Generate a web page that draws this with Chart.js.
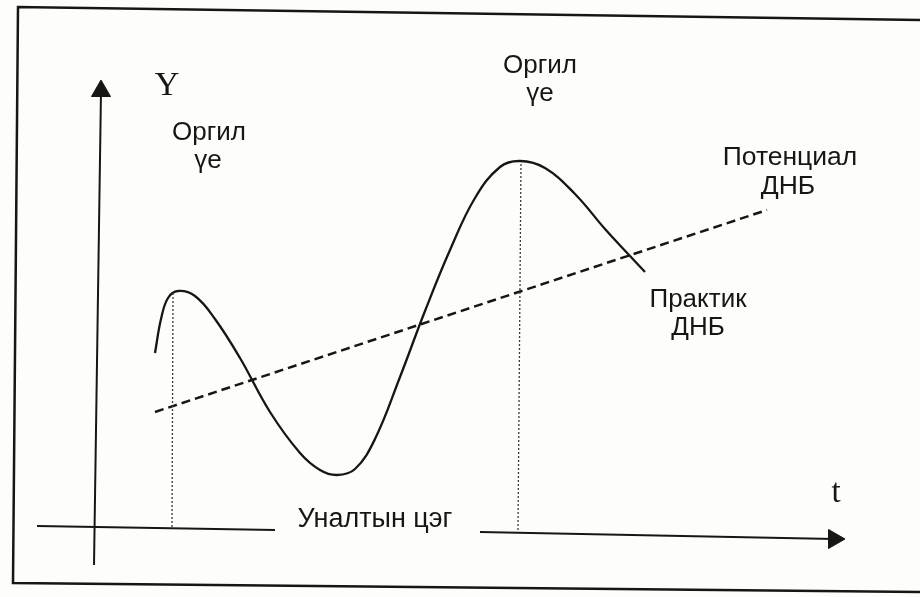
<!DOCTYPE html>
<html>
<head>
<meta charset="utf-8">
<script src="https://cdn.jsdelivr.net/npm/chart.js@4/dist/chart.umd.min.js"></script>
<style>
  html, body { margin: 0; padding: 0; background: #fdfdfa; }
  #wrap { width: 920px; height: 597px; }
</style>
</head>
<body>
<div id="wrap"><canvas id="cycle" width="920" height="597"></canvas></div>
<script>
// Practical GDP curve (t, Y).
const actualT = [ 155, 161, 168, 178, 195, 215, 240, 270, 300, 320, 337, 355, 375, 400, 425, 450, 475, 500, 520, 545, 575, 605, 630, 645 ];
const actualY = [ 244, 278, 299, 306, 301, 278, 239, 185, 144, 127, 122, 128, 158, 220, 286, 347, 399, 430, 436, 429, 403, 368, 341, 325 ];

// Potential GDP trend line.
const potentialT = [ 155, 767 ];
const potentialY = [ 185, 387 ];

// Peaks (dotted drop lines down to the time axis).
const peakT = [ 173, 521 ];
const peakY = [ 305, 435 ];
const peakBaseT = [ 172, 518 ];
const peakBaseY = [ 70, 67 ];

// Axes and frame of the scanned figure.
const yAxisT = [ 94, 101 ];
const yAxisY = [ 32, 506 ];
const tAxisLeftT = [ 37, 275 ];
const tAxisLeftY = [ 71, 67 ];
const tAxisRightT = [ 480, 834 ];
const tAxisRightY = [ 65, 58 ];
const frameT = [ 920, 18, 13, 920 ];
const frameY = [ 577, 590, 14, 5 ];

const INK = '#161616';

const pts = ( xs, ys ) => xs.map( ( x, i ) => ( { x: x, y: ys[ i ] } ) );

// Text annotations: [ text, t, Y (baseline), font ]
const notes = [
  [ 'Y', 167, 502, '34px "Liberation Serif"' ],
  [ 't', 836, 95, '33px "Liberation Serif"' ],
  [ 'Оргил', 209, 457, '26px "Liberation Sans"' ],
  [ 'үе', 208, 429, '26px "Liberation Sans"' ],
  [ 'Оргил', 540, 524, '26px "Liberation Sans"' ],
  [ 'үе', 540, 496, '26px "Liberation Sans"' ],
  [ 'Потенциал', 790, 432, '26.5px "Liberation Sans"' ],
  [ 'ДНБ', 788, 403, '26.5px "Liberation Sans"' ],
  [ 'Практик', 698, 290, '26px "Liberation Sans"' ],
  [ 'ДНБ', 698, 262, '26px "Liberation Sans"' ],
  [ 'Уналтын цэг', 375, 70, '27px "Liberation Sans"' ]
];

const notesPlugin = {
  id: 'notes',
  afterDatasetsDraw( chart ) {
    const ctx = chart.ctx;
    const sx = chart.scales.x;
    const sy = chart.scales.y;
    ctx.save();
    ctx.fillStyle = INK;
    ctx.textBaseline = 'alphabetic';
    ctx.textAlign = 'center';
    notes.forEach( n => {
      ctx.font = n[ 3 ];
      ctx.fillText( n[ 0 ], sx.getPixelForValue( n[ 1 ] ), sy.getPixelForValue( n[ 2 ] ) );
    } );
    ctx.restore();
  }
};

// Arrow head only on the last point of an axis.
const arrowAt = rot => ( {
  pointRadius: c => c.dataIndex === 1 ? 11 : 0,
  pointStyle: 'triangle',
  rotation: rot,
  pointBackgroundColor: INK,
  pointBorderColor: INK,
  pointBorderWidth: 1
} );

const plain = {
  showLine: true,
  pointRadius: 0,
  borderColor: INK,
  clip: false
};

new Chart( document.getElementById( 'cycle' ), {
  type: 'scatter',
  data: {
    datasets: [
      Object.assign( {}, plain, { data: pts( frameT, frameY ), borderWidth: 2.5 } ),
      Object.assign( {}, plain, { data: pts( [ peakBaseT[ 0 ], peakT[ 0 ] ], [ peakBaseY[ 0 ], peakY[ 0 ] ] ), borderWidth: 1.3, borderColor: '#3a3a3a', borderDash: [ 2, 2 ] } ),
      Object.assign( {}, plain, { data: pts( [ peakBaseT[ 1 ], peakT[ 1 ] ], [ peakBaseY[ 1 ], peakY[ 1 ] ] ), borderWidth: 1.3, borderColor: '#3a3a3a', borderDash: [ 2, 2 ] } ),
      Object.assign( {}, plain, arrowAt( 0 ), { data: pts( yAxisT, yAxisY ), borderWidth: 2 } ),
      Object.assign( {}, plain, { data: pts( tAxisLeftT, tAxisLeftY ), borderWidth: 2 } ),
      Object.assign( {}, plain, arrowAt( 90 ), { data: pts( tAxisRightT, tAxisRightY ), borderWidth: 2 } ),
      Object.assign( {}, plain, { data: pts( potentialT, potentialY ), borderWidth: 2.5, borderDash: [ 9, 5 ] } ),
      Object.assign( {}, plain, { data: pts( actualT, actualY ), borderWidth: 2.3, tension: 0.4 } )
    ]
  },
  options: {
    responsive: false,
    animation: false,
    events: [],
    layout: { padding: 0, autoPadding: false },
    plugins: { legend: { display: false }, tooltip: { enabled: false } },
    scales: {
      x: { type: 'linear', min: 0, max: 920, display: false },
      y: { type: 'linear', min: 0, max: 597, display: false }
    }
  },
  plugins: [ notesPlugin ]
} );
</script>
</body>
</html>
